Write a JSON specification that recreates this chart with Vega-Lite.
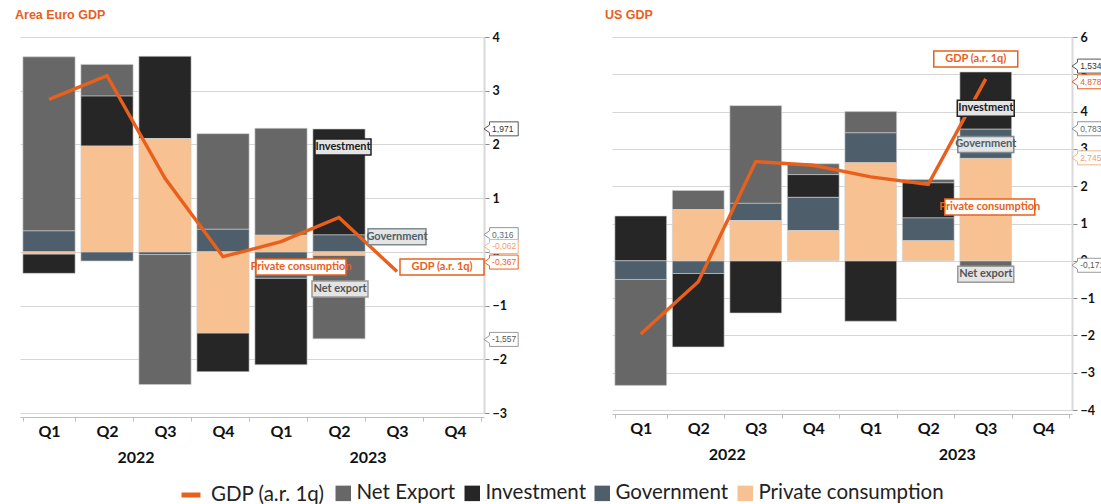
{
  "$schema": "https://vega.github.io/schema/vega-lite/v6.json",
  "padding": {"left": 15, "top": 8, "right": 0, "bottom": 0},
  "background": "white",
  "spacing": 128,
  "bounds": "flush",
  "datasets": {
    "euBars": [
      {"t": "2022 Q1", "series": "Net Export", "v": 3.24, "ord": 4},
      {"t": "2022 Q1", "series": "Investment", "v": -0.36, "ord": 3},
      {"t": "2022 Q1", "series": "Government", "v": 0.39, "ord": 2},
      {"t": "2022 Q1", "series": "Private consumption", "v": -0.04, "ord": 1},
      {"t": "2022 Q2", "series": "Net Export", "v": 0.59, "ord": 4},
      {"t": "2022 Q2", "series": "Investment", "v": 0.93, "ord": 3},
      {"t": "2022 Q2", "series": "Government", "v": -0.17, "ord": 2},
      {"t": "2022 Q2", "series": "Private consumption", "v": 1.97, "ord": 1},
      {"t": "2022 Q3", "series": "Net Export", "v": -2.42, "ord": 4},
      {"t": "2022 Q3", "series": "Investment", "v": 1.53, "ord": 3},
      {"t": "2022 Q3", "series": "Government", "v": -0.05, "ord": 2},
      {"t": "2022 Q3", "series": "Private consumption", "v": 2.11, "ord": 1},
      {"t": "2022 Q4", "series": "Net Export", "v": 1.78, "ord": 4},
      {"t": "2022 Q4", "series": "Investment", "v": -0.72, "ord": 3},
      {"t": "2022 Q4", "series": "Government", "v": 0.42, "ord": 2},
      {"t": "2022 Q4", "series": "Private consumption", "v": -1.51, "ord": 1},
      {"t": "2023 Q1", "series": "Net Export", "v": 1.99, "ord": 4},
      {"t": "2023 Q1", "series": "Investment", "v": -1.61, "ord": 3},
      {"t": "2023 Q1", "series": "Government", "v": -0.49, "ord": 2},
      {"t": "2023 Q1", "series": "Private consumption", "v": 0.31, "ord": 1},
      {"t": "2023 Q2", "series": "Net Export", "v": -1.557, "ord": 4},
      {"t": "2023 Q2", "series": "Investment", "v": 1.971, "ord": 3},
      {"t": "2023 Q2", "series": "Government", "v": 0.316, "ord": 2},
      {"t": "2023 Q2", "series": "Private consumption", "v": -0.062, "ord": 1}
    ],
    "euGdp": [
      {"t": "2022 Q1", "s": "GDP (a.r. 1q)", "gdp": 2.84},
      {"t": "2022 Q2", "s": "GDP (a.r. 1q)", "gdp": 3.28},
      {"t": "2022 Q3", "s": "GDP (a.r. 1q)", "gdp": 1.37},
      {"t": "2022 Q4", "s": "GDP (a.r. 1q)", "gdp": -0.09},
      {"t": "2023 Q1", "s": "GDP (a.r. 1q)", "gdp": 0.19},
      {"t": "2023 Q2", "s": "GDP (a.r. 1q)", "gdp": 0.64},
      {"t": "2023 Q3", "s": "GDP (a.r. 1q)", "gdp": -0.367}
    ],
    "euAnno": [
      {"label": "Investment", "t": "2023 Q2", "y": 1.95},
      {"label": "Government", "t": "2023 Q3", "y": 0.28},
      {"label": "GDP (a.r. 1q)", "t": "2023 Q4", "y": -0.28},
      {"label": "Private consumption", "t": "2023 Q1", "y": -0.28},
      {"label": "Net export", "t": "2023 Q2", "y": -0.69}
    ],
    "euTags": [
      {"label": "1,971", "kind": "Investment", "y": 2.29},
      {"label": "0,316", "kind": "Government", "y": 0.32},
      {"label": "-0,062", "kind": "Private consumption", "y": 0.1},
      {"label": "-0,367", "kind": "GDP", "y": -0.19},
      {"label": "-1,557", "kind": "Net Export", "y": -1.63}
    ],
    "usBars": [
      {"t": "2022 Q1", "series": "Net Export", "v": -2.84, "ord": 4},
      {"t": "2022 Q1", "series": "Investment", "v": 1.2, "ord": 3},
      {"t": "2022 Q1", "series": "Government", "v": -0.5, "ord": 2},
      {"t": "2022 Q2", "series": "Net Export", "v": 0.51, "ord": 4},
      {"t": "2022 Q2", "series": "Investment", "v": -1.97, "ord": 3},
      {"t": "2022 Q2", "series": "Government", "v": -0.34, "ord": 2},
      {"t": "2022 Q2", "series": "Private consumption", "v": 1.375, "ord": 1},
      {"t": "2022 Q3", "series": "Net Export", "v": 2.62, "ord": 4},
      {"t": "2022 Q3", "series": "Investment", "v": -1.4, "ord": 3},
      {"t": "2022 Q3", "series": "Government", "v": 0.46, "ord": 2},
      {"t": "2022 Q3", "series": "Private consumption", "v": 1.08, "ord": 1},
      {"t": "2022 Q4", "series": "Net Export", "v": 0.29, "ord": 4},
      {"t": "2022 Q4", "series": "Investment", "v": 0.61, "ord": 3},
      {"t": "2022 Q4", "series": "Government", "v": 0.89, "ord": 2},
      {"t": "2022 Q4", "series": "Private consumption", "v": 0.81, "ord": 1},
      {"t": "2023 Q1", "series": "Net Export", "v": 0.57, "ord": 4},
      {"t": "2023 Q1", "series": "Investment", "v": -1.62, "ord": 3},
      {"t": "2023 Q1", "series": "Government", "v": 0.8, "ord": 2},
      {"t": "2023 Q1", "series": "Private consumption", "v": 2.63, "ord": 1},
      {"t": "2023 Q2", "series": "Net Export", "v": 0.09, "ord": 4},
      {"t": "2023 Q2", "series": "Investment", "v": 0.94, "ord": 3},
      {"t": "2023 Q2", "series": "Government", "v": 0.61, "ord": 2},
      {"t": "2023 Q2", "series": "Private consumption", "v": 0.54, "ord": 1},
      {"t": "2023 Q3", "series": "Net Export", "v": -0.171, "ord": 4},
      {"t": "2023 Q3", "series": "Investment", "v": 1.534, "ord": 3},
      {"t": "2023 Q3", "series": "Government", "v": 0.783, "ord": 2},
      {"t": "2023 Q3", "series": "Private consumption", "v": 2.745, "ord": 1}
    ],
    "usGdp": [
      {"t": "2022 Q1", "s": "GDP (a.r. 1q)", "gdp": -1.96},
      {"t": "2022 Q2", "s": "GDP (a.r. 1q)", "gdp": -0.56},
      {"t": "2022 Q3", "s": "GDP (a.r. 1q)", "gdp": 2.66},
      {"t": "2022 Q4", "s": "GDP (a.r. 1q)", "gdp": 2.56},
      {"t": "2023 Q1", "s": "GDP (a.r. 1q)", "gdp": 2.25},
      {"t": "2023 Q2", "s": "GDP (a.r. 1q)", "gdp": 2.05},
      {"t": "2023 Q3", "s": "GDP (a.r. 1q)", "gdp": 4.878}
    ],
    "usAnno": [
      {"label": "GDP (a.r. 1q)", "t": "2023 Q3", "y": 5.41},
      {"label": "Investment", "t": "2023 Q3", "y": 4.09},
      {"label": "Government", "t": "2023 Q3", "y": 3.12},
      {"label": "Private consumption", "t": "2023 Q3", "y": 1.44},
      {"label": "Net export", "t": "2023 Q3", "y": -0.36}
    ],
    "usTags": [
      {"label": "1,534", "kind": "Investment", "y": 5.22},
      {"label": "4,878", "kind": "GDP", "y": 4.8},
      {"label": "0,783", "kind": "Government", "y": 3.54},
      {"label": "2,745", "kind": "Private consumption", "y": 2.76},
      {"label": "-0,171", "kind": "Net Export", "y": -0.12}
    ]
  },
  "hconcat": [
    {
      "width": 464,
      "height": 376,
      "title": {"text": "Area Euro GDP", "anchor": "start", "dx": -5},
      "resolve": {"axis": {"x": "independent"}},
      "layer": [
        {
          "data": {"name": "euGdp"},
          "mark": {"type": "line", "strokeWidth": 0},
          "encoding": {
            "x": {"field": "t", "type": "ordinal", "axis": null},
            "y": {"field": "gdp", "type": "quantitative", "title": null},
            "color": {"field": "s", "type": "nominal",
              "scale": {"domain": ["GDP (a.r. 1q)"], "range": ["#e8601c"]},
              "legend": {"title": null, "orient": "bottom", "direction": "horizontal", "symbolType": "stroke", "symbolStrokeWidth": 5, "symbolSize": 360, "symbolOpacity": 1, "labelFont": "Lato", "labelFontSize": 20.5, "labelColor": "#222", "labelLimit": 400, "labelOffset": 8}}
          }
        },
        {
          "data": {"name": "euBars"},
          "mark": {"type": "bar", "stroke": "#cfcfcf", "strokeWidth": 0.6},
          "encoding": {
            "x": {"field": "t", "type": "ordinal",
              "scale": {"domain": ["2022 Q1","2022 Q2","2022 Q3","2022 Q4","2023 Q1","2023 Q2","2023 Q3","2023 Q4"], "paddingInner": 0.1, "paddingOuter": 0.05},
              "axis": {"orient": "bottom", "title": null, "labelExpr": "split(datum.value, ' ')[1]", "labelAngle": 0, "tickBand": "extent", "offset": 4, "grid": false, "domainColor": "#bdbdbd", "tickColor": "#bdbdbd", "tickSize": 4, "labelFont": "Lato", "labelFontSize": 16, "labelFontWeight": "bold", "labelColor": "#111", "labelPadding": 2}},
            "y": {"field": "v", "type": "quantitative", "stack": "zero", "title": null,
              "scale": {"domain": [-3, 4], "nice": false, "zero": false},
              "axis": {"values": [-3, -2, -1, 0, 1, 2, 3, 4], "labelOverlap": false}},
            "fill": {"field": "series", "type": "nominal",
              "scale": {"domain": ["Net Export", "Investment", "Government", "Private consumption"], "range": ["#676767", "#262626", "#4e5e6a", "#f8c192"]},
              "legend": {"title": null, "orient": "bottom", "direction": "horizontal", "symbolType": "square", "symbolSize": 240, "symbolStrokeWidth": 0, "labelFont": "Lato", "labelFontSize": 20.5, "labelColor": "#222", "labelLimit": 400, "columnPadding": 6, "labelOffset": 3}},
            "order": {"field": "ord", "type": "quantitative"}
          }
        },
        {
          "data": {"name": "euGdp"},
          "mark": {"type": "line", "strokeWidth": 3.4},
          "encoding": {
            "x": {"field": "t", "type": "ordinal",
              "axis": {"orient": "bottom", "title": null, "labelExpr": "datum.value == '2022 Q2' ? '2022' : datum.value == '2023 Q2' ? '2023' : ''", "labelOffset": 29, "labelAngle": 0, "offset": 34, "domain": false, "ticks": false, "grid": false, "labelFont": "Lato", "labelFontSize": 16, "labelFontWeight": "bold", "labelColor": "#111"}},
            "y": {"field": "gdp", "type": "quantitative", "title": null},
            "color": {"field": "s", "type": "nominal"}
          }
        },
        {
          "data": {"name": "euAnno"},
          "mark": {"type": "point", "filled": true, "size": 256, "strokeWidth": 1.5, "opacity": 1},
          "encoding": {
            "x": {"field": "t", "type": "ordinal", "axis": null},
            "y": {"field": "y", "type": "quantitative", "title": null},
            "shape": {"condition": [
              {"test": "datum.label == 'Investment'", "value": "M-3,-1 L4,-1 L4,1 L-3,1 Z"},
              {"test": "datum.label == 'Government'", "value": "M-3.625,-1 L3.625,-1 L3.625,1 L-3.625,1 Z"},
              {"test": "datum.label == 'GDP (a.r. 1q)'", "value": "M-6.875,-1 L3.625,-1 L3.625,1 L-6.875,1 Z"},
              {"test": "datum.label == 'Private consumption'", "value": "M-3.125,-1 L8.125,-1 L8.125,1 L-3.125,1 Z"}],
              "value": "M-3.375,-1 L3.625,-1 L3.625,1 L-3.375,1 Z"},
            "fill": {"condition": {"test": "datum.label == 'GDP (a.r. 1q)' || datum.label == 'Private consumption'", "value": "#ffffff"}, "value": "#e4e4e4"},
            "stroke": {"condition": [
              {"test": "datum.label == 'Investment'", "value": "#222222"},
              {"test": "datum.label == 'Government'", "value": "#7d8a94"},
              {"test": "datum.label == 'Net export'", "value": "#9a9a9a"}],
              "value": "#e8601c"}
          }
        },
        {
          "data": {"name": "euAnno"},
          "mark": {"type": "text", "font": "Lato", "fontSize": 11, "fontWeight": "bold", "baseline": "middle",
            "dx": {"expr": "datum.label == 'Investment' ? 4 : datum.label == 'GDP (a.r. 1q)' ? -13 : datum.label == 'Private consumption' ? 20 : datum.label == 'Net export' ? 1 : 0"}},
          "encoding": {
            "x": {"field": "t", "type": "ordinal", "axis": null},
            "y": {"field": "y", "type": "quantitative", "title": null},
            "text": {"field": "label"},
            "color": {"condition": [
              {"test": "datum.label == 'Investment'", "value": "#1a1a1a"},
              {"test": "datum.label == 'Government'", "value": "#4e5e6a"},
              {"test": "datum.label == 'Net export'", "value": "#555555"}],
              "value": "#e8601c"}
          }
        },
        {
          "data": {"name": "euTags"},
          "mark": {"type": "point", "filled": true, "size": 196, "strokeWidth": 1, "shape": "M0.41,0 L1.2,-0.55 L1.2,-1 L5.3,-1 L5.3,1 L1.2,1 L1.2,0.55 Z", "fill": "#ffffff", "opacity": 1},
          "encoding": {
            "x": {"datum": "2023 Q4", "type": "ordinal", "bandPosition": 1, "axis": null},
            "y": {"field": "y", "type": "quantitative", "title": null},
            "stroke": {"condition": [
              {"test": "datum.kind == 'Investment'", "value": "#555555"},
              {"test": "datum.kind == 'Government'", "value": "#8a96a0"},
              {"test": "datum.kind == 'Private consumption'", "value": "#f5b48a"},
              {"test": "datum.kind == 'GDP'", "value": "#e8601c"}],
              "value": "#9a9a9a"}
          }
        },
        {
          "data": {"name": "euTags"},
          "mark": {"type": "text", "font": "Liberation Sans", "fontSize": 8.5, "align": "left", "baseline": "middle", "dx": 11},
          "encoding": {
            "x": {"datum": "2023 Q4", "type": "ordinal", "bandPosition": 1, "axis": null},
            "y": {"field": "y", "type": "quantitative", "title": null},
            "text": {"field": "label"},
            "color": {"condition": [
              {"test": "datum.kind == 'Investment'", "value": "#333333"},
              {"test": "datum.kind == 'Government'", "value": "#5a6a76"},
              {"test": "datum.kind == 'Private consumption'", "value": "#f0a070"},
              {"test": "datum.kind == 'GDP'", "value": "#e8601c"}],
              "value": "#555555"}
          }
        }
      ]
    },
    {
      "width": 460,
      "height": 373,
      "title": {"text": "US GDP", "anchor": "start", "dx": -7},
      "resolve": {"axis": {"x": "independent"}},
      "layer": [
        {
          "data": {"name": "usGdp"},
          "mark": {"type": "line", "strokeWidth": 0},
          "encoding": {
            "x": {"field": "t", "type": "ordinal", "axis": null},
            "y": {"field": "gdp", "type": "quantitative", "title": null},
            "color": {"field": "s", "type": "nominal",
              "scale": {"domain": ["GDP (a.r. 1q)"], "range": ["#e8601c"]},
              "legend": {"title": null, "orient": "bottom", "direction": "horizontal", "symbolType": "stroke", "symbolStrokeWidth": 5, "symbolSize": 360, "symbolOpacity": 1, "labelFont": "Lato", "labelFontSize": 20.5, "labelColor": "#222", "labelLimit": 400, "labelOffset": 8}}
          }
        },
        {
          "data": {"name": "usBars"},
          "mark": {"type": "bar", "stroke": "#cfcfcf", "strokeWidth": 0.6},
          "encoding": {
            "x": {"field": "t", "type": "ordinal",
              "scale": {"domain": ["2022 Q1","2022 Q2","2022 Q3","2022 Q4","2023 Q1","2023 Q2","2023 Q3","2023 Q4"], "paddingInner": 0.1, "paddingOuter": 0.05},
              "axis": {"orient": "bottom", "title": null, "labelExpr": "split(datum.value, ' ')[1]", "labelAngle": 0, "tickBand": "extent", "offset": 4, "grid": false, "domainColor": "#bdbdbd", "tickColor": "#bdbdbd", "tickSize": 4, "labelFont": "Lato", "labelFontSize": 16, "labelFontWeight": "bold", "labelColor": "#111", "labelPadding": 2}},
            "y": {"field": "v", "type": "quantitative", "stack": "zero", "title": null,
              "scale": {"domain": [-4, 6], "nice": false, "zero": false},
              "axis": {"values": [-4, -3, -2, -1, 0, 1, 2, 3, 4, 5, 6], "tickCount": 11, "labelOverlap": false}},
            "fill": {"field": "series", "type": "nominal",
              "scale": {"domain": ["Net Export", "Investment", "Government", "Private consumption"], "range": ["#676767", "#262626", "#4e5e6a", "#f8c192"]},
              "legend": {"title": null, "orient": "bottom", "direction": "horizontal", "symbolType": "square", "symbolSize": 240, "symbolStrokeWidth": 0, "labelFont": "Lato", "labelFontSize": 20.5, "labelColor": "#222", "labelLimit": 400, "columnPadding": 6, "labelOffset": 3}},
            "order": {"field": "ord", "type": "quantitative"}
          }
        },
        {
          "data": {"name": "usGdp"},
          "mark": {"type": "line", "strokeWidth": 3.4},
          "encoding": {
            "x": {"field": "t", "type": "ordinal",
              "axis": {"orient": "bottom", "title": null, "labelExpr": "datum.value == '2022 Q2' ? '2022' : datum.value == '2023 Q2' ? '2023' : ''", "labelOffset": 29, "labelAngle": 0, "offset": 34, "domain": false, "ticks": false, "grid": false, "labelFont": "Lato", "labelFontSize": 16, "labelFontWeight": "bold", "labelColor": "#111"}},
            "y": {"field": "gdp", "type": "quantitative", "title": null},
            "color": {"field": "s", "type": "nominal"}
          }
        },
        {
          "data": {"name": "usAnno"},
          "mark": {"type": "point", "filled": true, "size": 256, "strokeWidth": 1.5, "opacity": 1},
          "encoding": {
            "x": {"field": "t", "type": "ordinal", "axis": null},
            "y": {"field": "y", "type": "quantitative", "title": null},
            "shape": {"condition": [
              {"test": "datum.label == 'Investment'", "value": "M-3.56,-1 L3.56,-1 L3.56,1 L-3.56,1 Z"},
              {"test": "datum.label == 'Government'", "value": "M-3.5,-1 L3.5,-1 L3.5,1 L-3.5,1 Z"},
              {"test": "datum.label == 'GDP (a.r. 1q)'", "value": "M-6.5,-1 L4,-1 L4,1 L-6.5,1 Z"},
              {"test": "datum.label == 'Private consumption'", "value": "M-5.125,-1 L6.125,-1 L6.125,1 L-5.125,1 Z"}],
              "value": "M-3.5,-1 L3.5,-1 L3.5,1 L-3.5,1 Z"},
            "fill": {"condition": {"test": "datum.label == 'GDP (a.r. 1q)' || datum.label == 'Private consumption'", "value": "#ffffff"}, "value": "#e4e4e4"},
            "stroke": {"condition": [
              {"test": "datum.label == 'Investment'", "value": "#222222"},
              {"test": "datum.label == 'Government'", "value": "#7d8a94"},
              {"test": "datum.label == 'Net export'", "value": "#9a9a9a"}],
              "value": "#e8601c"}
          }
        },
        {
          "data": {"name": "usAnno"},
          "mark": {"type": "text", "font": "Lato", "fontSize": 11, "fontWeight": "bold", "baseline": "middle",
            "dx": {"expr": "datum.label == 'GDP (a.r. 1q)' ? -10 : datum.label == 'Private consumption' ? 4 : 0"}},
          "encoding": {
            "x": {"field": "t", "type": "ordinal", "axis": null},
            "y": {"field": "y", "type": "quantitative", "title": null},
            "text": {"field": "label"},
            "color": {"condition": [
              {"test": "datum.label == 'Investment'", "value": "#1a1a1a"},
              {"test": "datum.label == 'Government'", "value": "#4e5e6a"},
              {"test": "datum.label == 'Net export'", "value": "#555555"}],
              "value": "#e8601c"}
          }
        },
        {
          "data": {"name": "usTags"},
          "mark": {"type": "point", "filled": true, "size": 196, "strokeWidth": 1, "shape": "M0.41,0 L1.2,-0.55 L1.2,-1 L5.3,-1 L5.3,1 L1.2,1 L1.2,0.55 Z", "fill": "#ffffff", "opacity": 1},
          "encoding": {
            "x": {"datum": "2023 Q4", "type": "ordinal", "bandPosition": 1, "axis": null},
            "y": {"field": "y", "type": "quantitative", "title": null},
            "stroke": {"condition": [
              {"test": "datum.kind == 'Investment'", "value": "#555555"},
              {"test": "datum.kind == 'Government'", "value": "#8a96a0"},
              {"test": "datum.kind == 'Private consumption'", "value": "#f5b48a"},
              {"test": "datum.kind == 'GDP'", "value": "#e8601c"}],
              "value": "#9a9a9a"}
          }
        },
        {
          "data": {"name": "usTags"},
          "mark": {"type": "text", "font": "Liberation Sans", "fontSize": 8.5, "align": "left", "baseline": "middle", "dx": 11},
          "encoding": {
            "x": {"datum": "2023 Q4", "type": "ordinal", "bandPosition": 1, "axis": null},
            "y": {"field": "y", "type": "quantitative", "title": null},
            "text": {"field": "label"},
            "color": {"condition": [
              {"test": "datum.kind == 'Investment'", "value": "#333333"},
              {"test": "datum.kind == 'Government'", "value": "#5a6a76"},
              {"test": "datum.kind == 'Private consumption'", "value": "#f0a070"},
              {"test": "datum.kind == 'GDP'", "value": "#e8601c"}],
              "value": "#555555"}
          }
        }
      ]
    }
  ],
  "config": {
    "view": {"stroke": null},
    "title": {"color": "#e8601c", "fontSize": 12.5, "font": "Liberation Sans", "fontWeight": "bold", "offset": 10},
    "legend": {"offset": 18, "layout": {"bottom": {"anchor": "middle", "direction": "horizontal", "margin": 8}}},
    "axisY": {"orient": "right", "title": null, "format": "d", "labelOverlap": false, "gridColor": "#d6d6d6", "gridWidth": 1, "domainColor": "#d9d9d9", "domainWidth": 2, "tickColor": "#8c8c8c", "tickSize": 5, "labelFont": "Lato", "labelFontSize": 12.5, "labelFontWeight": "bold", "labelColor": "#111", "labelPadding": 3}
  }
}
